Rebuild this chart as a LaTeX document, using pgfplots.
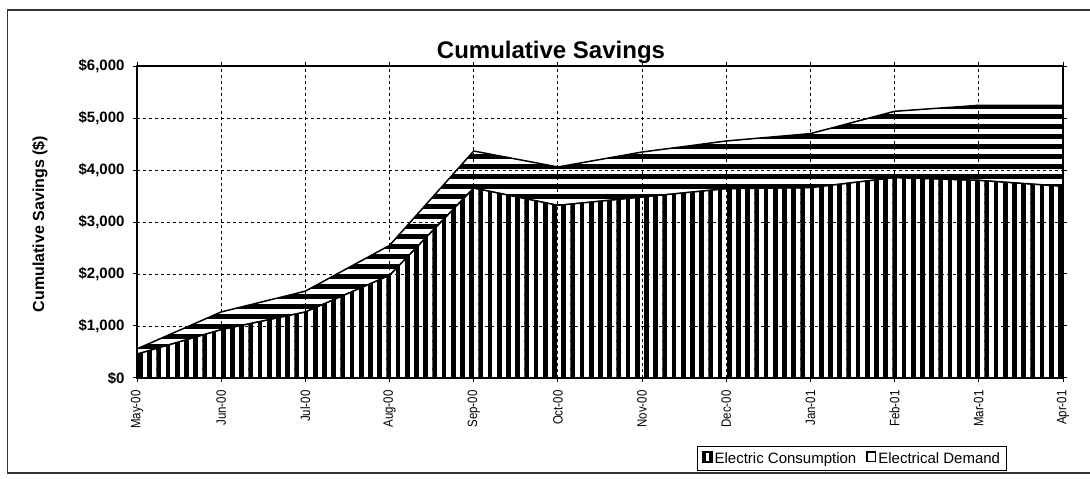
\documentclass[border=0pt]{standalone}
\usepackage{fontspec}
\setmainfont{Liberation Sans}
\newfontfamily\narrowfont{Liberation Sans}[FakeStretch=0.85]
\usepackage{pgfplots}
\pgfplotsset{compat=1.18}
\usetikzlibrary{patterns}
\pgfdeclarepatternformonly{vstripes}{\pgfqpoint{0pt}{-1pt}}{\pgfqpoint{9.2pt}{10.2pt}}{\pgfqpoint{9.2pt}{9.2pt}}{\pgfpathrectangle{\pgfqpoint{0pt}{-1pt}}{\pgfqpoint{4.8pt}{11.2pt}}\pgfusepath{fill}}
\pgfdeclarepatternformonly{hstripes}{\pgfqpoint{-1pt}{0pt}}{\pgfqpoint{11pt}{10pt}}{\pgfqpoint{10pt}{10pt}}{\pgfpathrectangle{\pgfqpoint{-1pt}{0pt}}{\pgfqpoint{12pt}{4.8pt}}\pgfusepath{fill}}
\newcommand\xtickfont{\narrowfont\fontsize{13.5pt}{15pt}\selectfont}
\newcommand\ytickfont{\bfseries\fontsize{15pt}{17pt}\selectfont}
\newcommand\legfont{\fontsize{15pt}{18pt}\selectfont}
\begin{document}
\begin{tikzpicture}
\useasboundingbox (0pt,0pt) rectangle (1090pt,479pt);
\draw[black!80, line width=1.2pt] (1095pt,469pt) -- (7.5pt,469pt) -- (7.5pt,6pt) -- (1095pt,6pt);
\node[anchor=base, font=\bfseries\fontsize{24pt}{28pt}\selectfont] at (551pt,420pt) {Cumulative Savings};
\node[rotate=90, font=\bfseries\fontsize{16pt}{19pt}\selectfont] at (40pt,255pt) {Cumulative Savings (\$)};
\begin{axis}[
  at={(137pt,101pt)}, anchor=south west,
  scale only axis, width=926pt, height=312pt,
  xmin=0, xmax=11, ymin=0, ymax=6000,
  stack plots=y,
  xtick={0,...,11},
  xticklabels={May-00,Jun-00,Jul-00,Aug-00,Sep-00,Oct-00,Nov-00,Dec-00,Jan-01,Feb-01,Mar-01,Apr-01},
  ytick={0,1000,2000,3000,4000,5000,6000},
  yticklabels={{\$0},{\$1,000},{\$2,000},{\$3,000},{\$4,000},{\$5,000},{\$6,000}},
  grid=major,
  major grid style={black, line width=0.9pt, dash pattern=on 3pt off 3pt},
  axis line style={black, line width=1.6pt},
  tick style={black, line width=1pt},
  tick align=outside, major tick length=4pt,
  xticklabel style={rotate=90, anchor=east, font=\xtickfont},
  xticklabel shift={5pt},
  yticklabel style={font=\ytickfont},
  yticklabel shift={5pt},
  legend columns=2,
  legend style={at={(0.605,-0.298)}, anchor=south west, draw=black, line width=0.8pt,
    font=\legfont, inner ysep=4pt, inner xsep=4pt,
    /tikz/every even column/.append style={column sep=8pt}},
]
\addplot[draw=black, line width=1pt, pattern=vstripes,
  legend image code/.code={\fill[black] (0pt,-4pt) rectangle (10pt,7pt); \fill[white] (4pt,-2pt) rectangle (6pt,5pt);}]
  coordinates {(0,460) (1,930) (2,1270) (3,1975) (4,3654) (5,3321) (6,3481) (7,3642) (8,3661) (9,3854) (10,3802) (11,3687)} \closedcycle;
\addlegendentry{Electric Consumption}
\addplot[draw=black, line width=1.5pt, pattern=hstripes,
  legend image code/.code={\draw[black, line width=1.8pt, fill=white] (0.9pt,-3.1pt) rectangle (9.1pt,6.1pt);}]
  coordinates {(0,100) (1,340) (2,400) (3,575) (4,711) (5,737) (6,865) (7,916) (8,1039) (9,1275) (10,1442) (11,1557)} \closedcycle;
\addlegendentry{Electrical Demand}
\end{axis}
\end{tikzpicture}
\end{document}
